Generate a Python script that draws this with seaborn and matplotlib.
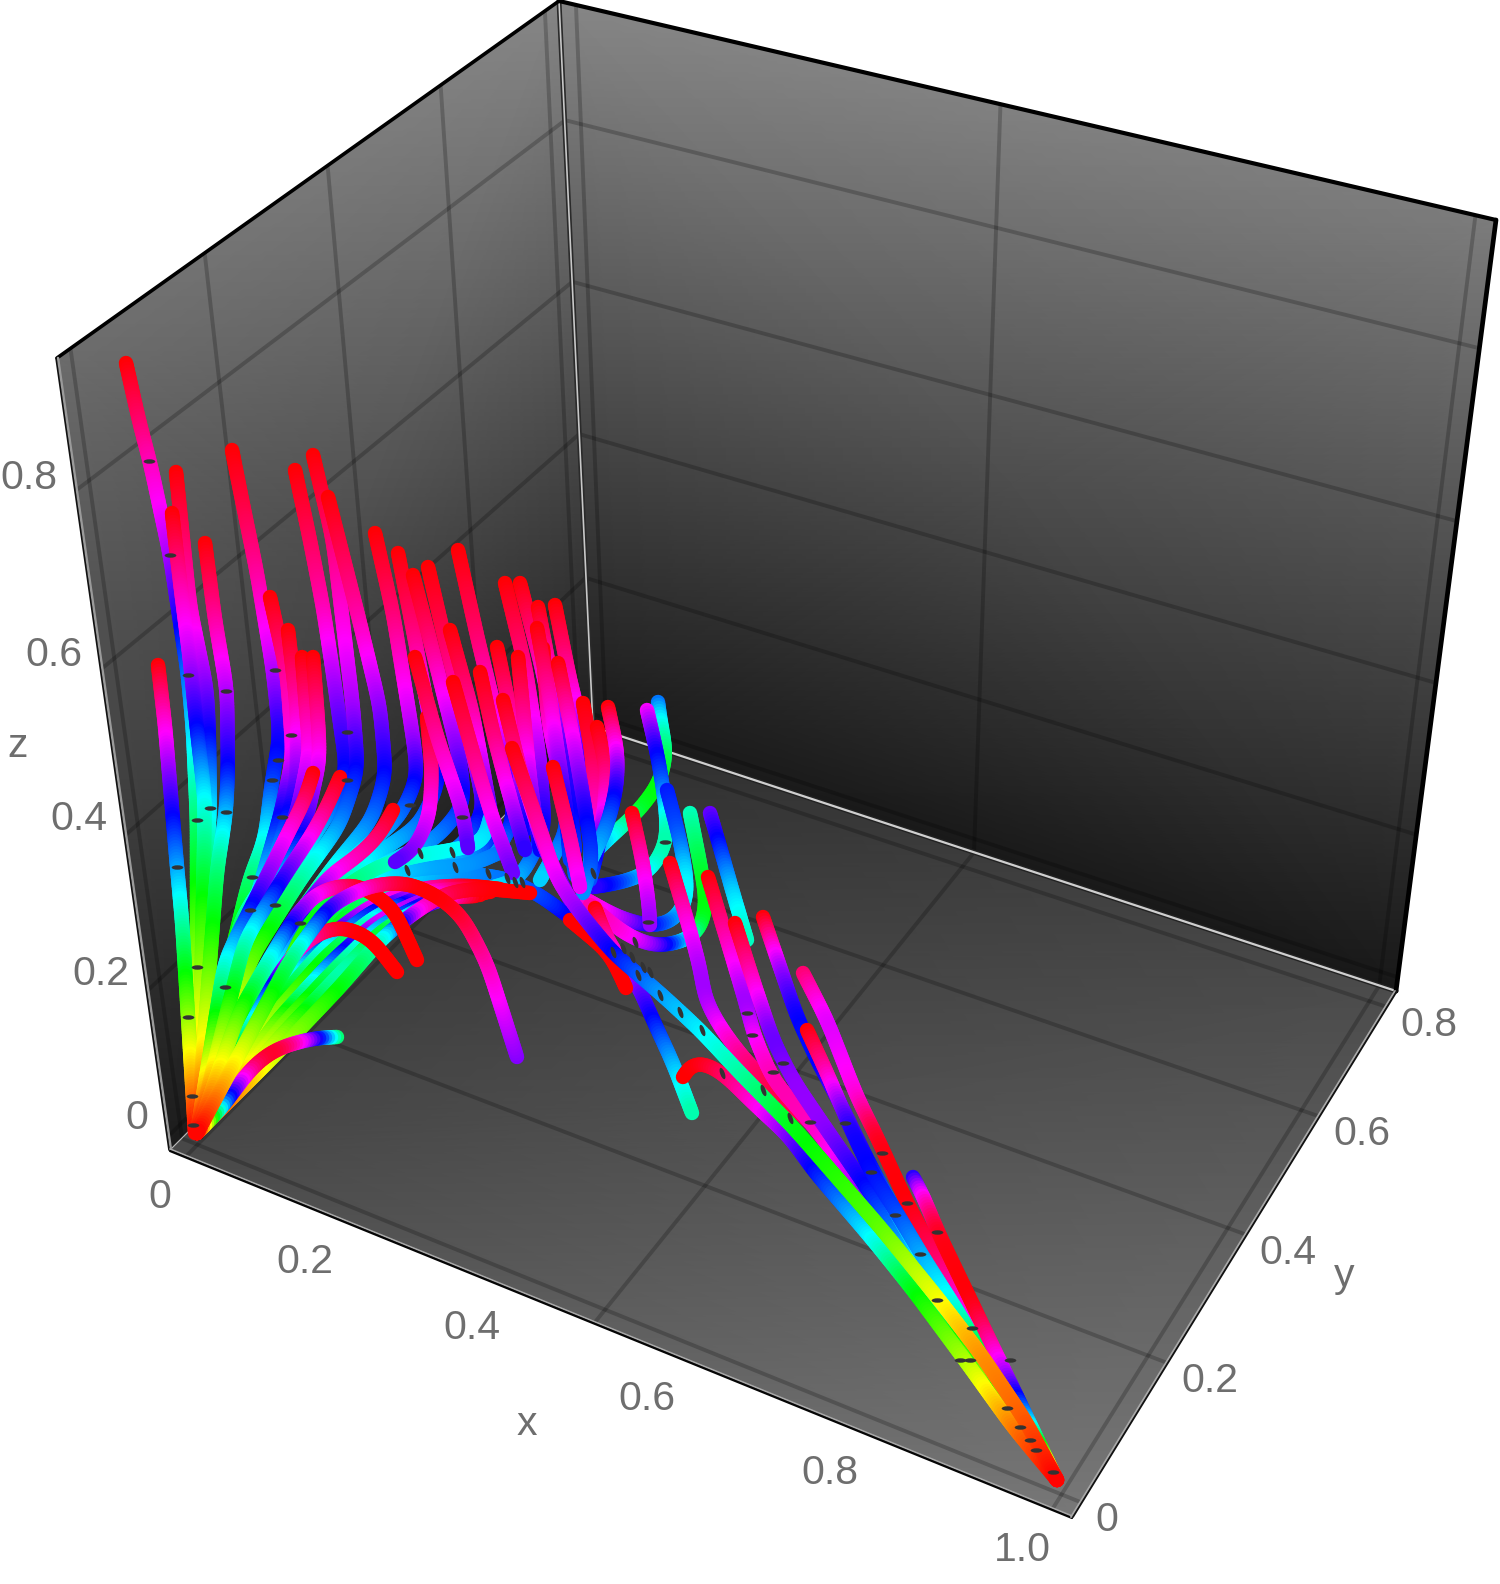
import numpy as np
import matplotlib
matplotlib.use("Agg")
import matplotlib.pyplot as plt
from matplotlib.collections import LineCollection
from matplotlib.colors import hsv_to_rgb
from matplotlib.path import Path
from matplotlib.transforms import Affine2D
import seaborn as sns

sns.set_theme(style="white")
plt.rcParams['font.family'] = ['Liberation Sans', 'DejaVu Sans']

x_grid = [0, 0.5, 1.0]
y_grid = [0, 0.2, 0.4, 0.6, 0.8]
z_grid = [0, 0.2, 0.4, 0.6, 0.8]
x_ticks = ["0", "0.2", "0.4", "0.6", "0.8", "1.0"]
y_ticks = ["0", "0.2", "0.4", "0.6", "0.8"]
z_ticks = ["0", "0.2", "0.4", "0.6", "0.8"]

# Streamlines: screen x, screen y, hue angle
L01 = [(126,363,360),(140,425,335),(150,462,318),(170,555,282),(188,675,215),(193,730,190),(197,820,150),(197,967,85),(199,1053,45),(197,1133,0)]
L02 = [(172,513,360),(181,590,320),(190,660,285),(197,730,240),(205,800,180),(203,900,120),(200,1053,50),(197,1133,0)]
L03 = [(176,472,360),(190,607,315),(207,690,270),(209,737,240),(210,807,190),(205,887,130),(200,1053,50),(197,1133,0)]
L04 = [(158,665,360),(165,725,310),(173,820,240),(177,867,205),(182,920,165),(188,1017,90),(195,1133,0)]
L05 = [(205,543,360),(215,620,325),(227,690,285),(228,770,240),(226,813,200),(217,870,150),(203,1053,55),(197,1133,0)]
L06 = [(232,450,360),(240,490,350),(257,573,325),(273,670,285),(280,737,245),(272,780,230),(265,840,180),(250,877,150),(223,987,90),(197,1133,0)]
L07 = [(270,597,360),(287,673,325),(293,757,300),(280,817,240),(253,910,170),(223,990,90),(197,1133,0)]
L08 = [(288,630,360),(297,707,320),(297,780,270),(275,860,200),(240,950,125),(197,1133,0)]
L09 = [(295,470,360),(310,540,340),(323,607,320),(333,673,285),(342,737,255),(347,770,240),(337,800,225),(307,847,185),(273,907,135),(227,987,90),(197,1133,0)]
L10 = [(302,657,360),(307,720,320),(310,750,305),(297,813,265),(273,870,215),(240,920,150),(197,1133,0)]
L11 = [(313,657,360),(318,720,325),(320,760,300),(305,825,255),(280,885,190),(245,950,120),(197,1133,0)]
L12 = [(313,455,360),(333,540,335),(353,707,280),(358,770,240),(340,825,210),(300,880,160),(250,960,100),(197,1133,0)]
L13 = [(328,497,360),(360,623,320),(380,707,275),(386,775,240),(372,820,215),(333,867,180),(280,940,120),(197,1133,0)]
L14 = [(375,533,360),(393,613,335),(413,737,280),(418,777,245),(400,817,215),(345,865,175),(290,935,130),(197,1133,0)]
L15 = [(398,553,360),(415,640,330),(430,720,285),(440,780,240),(420,825,215),(360,865,180),(295,935,120),(197,1133,0)]
L16 = [(413,575,360),(430,640,335),(445,700,300),(460,760,265),(465,805,235),(435,840,210),(375,868,180),(300,935,120),(197,1133,0)]
L17 = [(428,567,360),(445,640,340),(470,740,300),(485,810,250),(460,850,210),(395,870,180),(300,945,120),(197,1133,0)]
L19 = [(313,773,360),(305,800,340),(293,823,315),(265,880,270),(225,960,180),(197,1133,0)]
L20 = [(340,777,360),(328,805,340),(313,833,310),(285,875,260),(245,940,170),(197,1133,0)]
L21 = [(393,810,360),(380,835,340),(357,857,320),(330,875,300),(290,925,220),(197,1133,0)]
L22 = [(458,550,360),(478,640,335),(500,730,300),(515,820,240),(495,855,205),(430,870,180),(360,885,160),(300,950,110),(197,1133,0)]
L23 = [(450,630,360),(472,710,325),(485,780,280),(495,835,240),(470,860,205),(420,870,185),(340,895,150),(197,1133,0)]
G01 = [(490,818,195),(485,843,185),(453,850,180),(420,855,175),(380,865,165),(340,890,145),(290,945,110),(197,1133,0)]
G02 = [(505,850,215),(470,866,205),(420,868,200),(375,878,185),(335,905,140),(280,975,100),(197,1133,0)]
G03 = [(567,915,245),(540,895,225),(507,878,215),(453,872,205),(400,878,190),(340,912,130),(270,1000,90),(197,1133,0)]
M01 = [(427,717,360),(432,770,330),(430,815,300),(415,850,275),(395,862,260)]
M02 = [(415,657,360),(437,737,325),(463,813,285),(468,848,260)]
M03 = [(453,682,360),(475,760,330),(493,820,300),(513,873,265)]
M04 = [(480,672,360),(493,733,335),(508,790,300),(525,850,250)]
M05 = [(505,583,360),(525,665,330),(540,760,280),(545,830,240),(520,880,200),(490,888,185)]
M06 = [(520,583,360),(540,660,320),(560,750,260),(568,830,225),(540,880,190)]
M07 = [(538,607,360),(548,660,320),(565,750,260),(575,850,230)]
M08 = [(555,605,360),(570,680,320),(585,740,270),(592,810,235),(590,875,200)]
M09 = [(537,628,360),(550,700,320),(565,800,250),(570,860,225)]
M10 = [(497,647,360),(512,720,320),(520,770,290),(525,830,240)]
M11 = [(518,657,360),(525,730,320),(530,780,285),(540,850,240)]
M12 = [(543,648,360),(548,720,315),(565,800,250),(575,875,220)]
M13 = [(503,700,360),(520,770,320),(545,850,280),(570,900,260)]
M14 = [(583,703,360),(592,753,345),(595,800,320),(600,840,300)]
M15 = [(597,727,360),(607,770,335),(604,813,300),(598,850,250),(590,880,220)]
M16 = [(608,707,360),(618,753,295),(617,787,250),(607,827,215),(590,862,190)]
M17 = [(558,663,360),(573,737,300),(587,820,240),(593,863,225),(583,893,205)]
M18 = [(553,767,360),(570,837,325),(580,887,295)]
U01 = [(658,702,215),(660,720,180),(667,753,145),(660,783,120),(637,813,125),(610,837,180),(592,855,205)]
U02 = [(647,710,300),(657,753,240),(663,787,220),(667,820,170),(667,843,155),(650,873,170),(620,883,225),(593,887,250)]
U03 = [(667,790,235),(680,840,220),(687,880,180),(687,903,175),(673,923,205),(650,927,235),(617,917,285),(587,900,310)]
U04 = [(690,813,165),(700,863,135),(707,903,120),(700,933,125),(680,943,200),(653,947,270),(623,933,305),(590,905,320)]
U05 = [(632,813,360),(643,863,315),(650,913,280),(650,925,275)]
R01 = [(710,813,265),(720,847,235),(733,893,190),(747,940,165)]
R02 = [(570,920,360),(610,953,360),(626,988,360)]
R03 = [(595,908,360),(607,940,320),(637,983,275),(653,1020,240),(673,1063,200),(692,1113,160)]
R04 = [(512,748,360),(537,820,325),(557,880,295),(580,913,275),(613,953,240),(660,993,205),(700,1030,185),(740,1073,160),(793,1127,125),(880,1227,100),(937,1297,65),(980,1353,35),(1025,1420,22),(1057,1480,0)]
R05 = [(683,1077,360),(688,1063,360),(700,1060,360),(723,1073,340),(753,1103,310),(790,1137,270),(813,1170,240),(873,1240,180),(913,1290,125),(967,1363,80),(1013,1427,30),(1057,1480,0)]
R06 = [(670,863,360),(687,920,310),(700,967,280),(705,1000,275),(722,1030,300),(745,1060,330),(780,1095,345),(840,1150,330),(885,1220,280),(930,1290,200),(970,1350,120),(1020,1425,50),(1057,1480,0)]
R07 = [(708,877,360),(727,940,320),(747,1007,270),(753,1033,295),(773,1080,320),(817,1130,315),(860,1190,280),(905,1262,210),(950,1330,130),(1000,1400,60),(1057,1480,0)]
R08 = [(735,923,360),(753,980,315),(773,1040,260),(793,1080,275),(827,1130,275),(865,1185,240),(907,1250,200),(940,1295,150),(980,1352,115),(1020,1420,60),(1057,1480,0)]
R09 = [(763,917,360),(780,967,280),(797,1017,240),(817,1060,235),(840,1103,265),(870,1165,240),(900,1220,200),(930,1270,170),(970,1340,120),(1010,1405,60),(1057,1480,0)]
R10 = [(803,973,335),(827,1020,290),(857,1097,305),(877,1137,355),(907,1203,360),(940,1264,335),(967,1314,305),(993,1362,280),(1013,1399,240),(1040,1449,140),(1057,1480,0)]
R11 = [(807,1030,360),(827,1073,320),(850,1127,245),(870,1170,240),(897,1213,225),(923,1257,200),(960,1315,170),(1000,1385,100),(1057,1480,0)]
R12 = [(913,1177,245),(922,1193,300),(937,1230,355),(973,1305,360),(993,1347,320),(1010,1382,270),(1033,1430,180),(1048,1462,60),(1057,1480,0)]
F01 = [(500,889,360),(465,885,360),(420,888,315),(370,906,300),(320,943,235),(270,1003,130),(197,1133,0)]
F02 = [(495,890,360),(462,888,350),(420,892,300),(372,911,240),(323,949,180),(272,1009,110),(197,1133,0)]
F03 = [(490,892,360),(458,890,345),(420,896,285),(375,916,180),(327,955,130),(274,1015,90),(197,1133,0)]
F04 = [(485,893,360),(455,892,340),(422,900,270),(377,921,300),(331,962,220),(276,1022,100),(197,1133,0)]
F05 = [(480,895,360),(450,894,330),(424,903,250),(379,926,200),(335,969,150),(278,1030,90),(197,1133,0)]
F06 = [(475,896,360),(447,897,320),(425,905,235),(381,931,120),(337,977,170),(279,1038,85),(197,1133,0)]
F07 = [(530,893,360),(480,888,360),(445,893,345),(415,912,310),(383,937,170),(340,987,125),(280,1050,80),(197,1133,0)]
A01 = [(517,1057,270),(503,1013,290),(487,963,315),(463,917,345),(440,897,360),(407,882,360),(370,885,330),(330,905,260),(290,960,150),(197,1133,0)]
A02 = [(417,960,360),(393,907,360),(357,883,360),(320,890,310),(297,913,270),(273,953,185),(240,1010,110),(197,1133,0)]
A03 = [(397,972,360),(370,937,360),(340,925,360),(310,937,330),(283,967,280),(257,1013,190),(197,1133,0)]
A04 = [(337,1037,140),(320,1037,235),(297,1042,310),(273,1050,360),(252,1067,345),(237,1087,280),(220,1110,200),(197,1133,0)]
streams = [L01, L03, L02, L04, L05, L06, L07, L08, L10, L11, L09, L12, L13, L14, L15, L16, L17, L22, L23,
           G03, G02, G01, U01, U02, U03, U04, M06, M05, M08, M07, M12, M09, M10, M11, M14, M15, M16, M17,
           L19, L20, L21, M01, M02, M04, M03, M13, M18, F01, F02, F03, F04, F05, F06, F07,
           A04, A03, A02, A01, U05, R01, R03, R02, R06, R07, R08, R09, R10, R11, R12, R05, R04]

# The small dark glitches along the tubes
speck_flat_x = [149,170,188,226,275,347,291,177,197,210,226,252,197,188,225,192,193,278,272,347,410,282,250,275,300,462,
                882,907,895,937,871,920,937,972,1010,960,970,1007,1020,1030,1036,1053,665,648,747,752,773,783,810,845]
speck_flat_y = [461,555,675,691,670,732,735,867,820,808,812,877,967,1017,987,1096,1125,760,780,780,805,817,910,905,923,817,
                1153,1203,1215,1232,1172,1254,1300,1328,1360,1360,1360,1408,1427,1440,1450,1472,842,922,1013,1035,1072,1063,1122,1123]
speck_tall_x = [420,452,455,488,407,507,515,522,593,613,638,660,680,702,722,763,790,635,623,632,643,650]
speck_tall_y = [853,852,867,873,870,878,882,882,873,952,975,995,1012,1030,1073,1090,1118,942,948,957,967,972]

# Box: data range and where its corners fall in the picture
x_lo, x_hi, y_lo, y_hi, z_lo, z_hi = -0.02, 1.02, -0.02, 0.83, -0.02, 0.94
A = (559, 1); L = (57, 358); R = (1496, 220); BK = (593, 727)
F0 = (170, 1150); F1 = (1072, 1517); F2 = (1396, 991)
world = [(x_lo,y_hi,z_hi),(x_lo,y_lo,z_hi),(x_hi,y_hi,z_hi),(x_lo,y_hi,z_lo),(x_lo,y_lo,z_lo),(x_hi,y_lo,z_lo),(x_hi,y_hi,z_lo)]
screen = [A, L, R, BK, F0, F1, F2]

rows, rhs = [], []
for (wx, wy, wz), (sx, sy) in zip(world, screen):
    rows.append([wx, wy, wz, 1, 0, 0, 0, 0, -sx*wx, -sx*wy, -sx*wz]); rhs.append(sx)
    rows.append([0, 0, 0, 0, wx, wy, wz, 1, -sy*wx, -sy*wy, -sy*wz]); rhs.append(sy)
P = np.append(np.linalg.lstsq(np.array(rows, float), np.array(rhs, float), rcond=None)[0], 1).reshape(3, 4)

def project(wx, wy, wz):
    v = P @ np.array([wx, wy, wz, 1.0])
    return v[0]/v[2], v[1]/v[2]

fig = plt.figure(figsize=(15, 15.84), dpi=100)
ax = fig.add_axes([0, 0, 1, 1])
ax.set_xlim(0, 1500); ax.set_ylim(1584, 0); ax.axis("off")

def panel(c00, c01, c10, c11, v00, v01, v10, v11):
    X = np.array([[c00[0], c01[0]], [c10[0], c11[0]]], float)
    Y = np.array([[c00[1], c01[1]], [c10[1], c11[1]]], float)
    C = np.array([[v00, v01], [v10, v11]], float)
    ax.pcolormesh(X, Y, C, shading="gouraud", cmap="gray", vmin=0, vmax=255, zorder=1)

panel(L, A, F0, BK, 0x6c, 0x86, 0x1c, 0x1e)
panel(A, R, BK, F2, 0x86, 0x7c, 0x1a, 0x18)
panel(BK, F2, F0, F1, 0x2e, 0x4c, 0x48, 0x78)

def gline(p, q, alpha=0.21, lw=2.8):
    ax.plot([p[0], q[0]], [p[1], q[1]], color="black", alpha=alpha, lw=lw, zorder=2, solid_capstyle="butt")

for gx in x_grid:
    gline(project(gx, y_lo, z_lo), project(gx, y_hi, z_lo))
    gline(project(gx, y_hi, z_lo), project(gx, y_hi, z_hi))
for gy in y_grid:
    gline(project(x_lo, gy, z_lo), project(x_hi, gy, z_lo))
    gline(project(x_lo, gy, z_lo), project(x_lo, gy, z_hi))
for gz in z_grid:
    gline(project(x_lo, y_lo, gz), project(x_lo, y_hi, gz))
    gline(project(x_lo, y_hi, gz), project(x_hi, y_hi, gz))

def edge(p, q, color, lw, z=3):
    ax.plot([p[0], q[0]], [p[1], q[1]], color=color, lw=lw, zorder=z, solid_capstyle="round")

edge(A, BK, "#2a2a2a", 3.6); edge(A, BK, "#c8c8c8", 1.2)
edge(BK, F2, "#222222", 3.6); edge(BK, F2, "#cfcfcf", 1.6)
edge(BK, F0, "#bbbbbb", 0.8)
edge(L, A, "black", 2.6); edge(A, R, "black", 3.0); edge(R, F2, "black", 3.4)
edge((L[0]+1, L[1]), (F0[0]+1, F0[1]), "#9a9a9a", 1.8); edge((L[0]-1, L[1]), (F0[0]-1, F0[1]), "#111111", 1.2)
edge((F0[0], F0[1]-1), (F1[0], F1[1]-1), "#a8a8a8", 1.2); edge((F0[0], F0[1]+1), (F1[0], F1[1]+1), "#050505", 1.6)
edge((F1[0]-1, F1[1]), (F2[0]-1, F2[1]), "#a8a8a8", 1.4); edge((F1[0]+1, F1[1]), (F2[0]+1, F2[1]), "#111111", 1.3)

def tube(points, step=3.0, sigma=13.0):
    pts = np.array(points, float)
    arc = np.concatenate([[0], np.cumsum(np.hypot(*np.diff(pts[:, :2], axis=0).T))])
    s = np.append(np.arange(0, arc[-1], step), arc[-1])
    fine = np.column_stack([np.interp(s, arc, pts[:, i]) for i in range(3)])
    n = min(int(3*sigma/step), len(fine)-1)
    kernel = np.exp(-0.5*(np.arange(-n, n+1)*step/sigma)**2)
    kernel /= kernel.sum()
    head = 2*fine[0] - fine[1:n+1][::-1]
    tail = 2*fine[-1] - fine[-n-1:-1][::-1]
    full = np.vstack([head, fine, tail])
    return np.column_stack([np.convolve(full[:, i], kernel, mode="valid") for i in range(3)])

for order, stream in enumerate(streams):
    fine = tube(stream)
    xy = fine[:, :2]
    segs = np.stack([xy[:-1], xy[1:]], axis=1)
    hues = (np.clip((fine[:-1, 2]+fine[1:, 2])/2, 0, 360) % 360)/360
    rgb = hsv_to_rgb(np.column_stack([hues, np.ones_like(hues), np.ones_like(hues)]))
    lc = LineCollection(segs, colors=rgb, linewidths=10.4, capstyle="round", joinstyle="round", zorder=10+order*0.01)
    ax.add_collection(lc)

flat_mark = Path.unit_circle().transformed(Affine2D().scale(1, 0.38))
tall_mark = Path.unit_circle().transformed(Affine2D().scale(0.38, 1).rotate_deg(20))
sns.scatterplot(x=speck_flat_x, y=speck_flat_y, ax=ax, marker=flat_mark, s=70, color="#333333", linewidth=0, zorder=12, legend=False)
sns.scatterplot(x=speck_tall_x, y=speck_tall_y, ax=ax, marker=tall_mark, s=70, color="#333333", linewidth=0, zorder=12, legend=False)
ax.set_xlim(0, 1500); ax.set_ylim(1584, 0); ax.axis("off")

label_style = dict(color="#6e6e6e", fontsize=29.5, ha="center", va="center", zorder=20)
for s, p in zip(x_ticks, [(160,1197),(305,1262),(472,1328),(647,1399),(830,1473),(1022,1550)]):
    ax.text(p[0], p[1], s, **label_style)
for s, p in zip(y_ticks, [(1107,1520),(1210,1381),(1288,1253),(1362,1134),(1429,1025)]):
    ax.text(p[0], p[1], s, **label_style)
for s, p in zip(z_ticks, [(137,1118),(101,974),(79,819),(54,655),(29,478)]):
    ax.text(p[0], p[1], s, **label_style)
for s, p in zip(["x", "y", "z"], [(527,1424),(1344,1276),(18,746)]):
    ax.text(p[0], p[1], s, **label_style)

fig.savefig("out.png", dpi=100)
